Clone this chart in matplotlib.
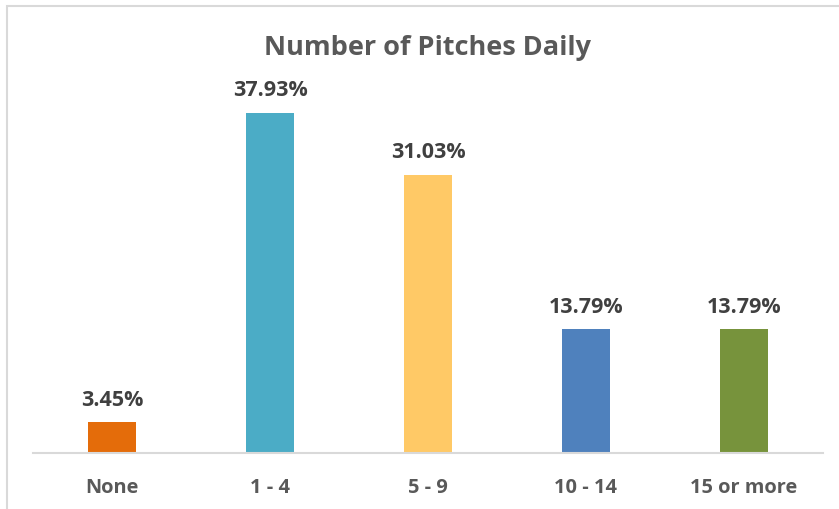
import matplotlib.pyplot as plt
from matplotlib.patches import Rectangle

categories = ['None', '1 - 4', '5 - 9', '10 - 14', '15 or more']
percents = [3.45, 37.93, 31.03, 13.79, 13.79]
colors = ['#E46C0A', '#4BACC6', '#FFC966', '#4F81BD', '#77933C']

plt.rcParams['font.family'] = ['Open Sans', 'DejaVu Sans']

W, H = 839, 510
fig = plt.figure(figsize=(W / 100, H / 100), dpi=100)

# light frame round the chart area
fig.patches.append(Rectangle((7 / W, -0.1), 1.2, (H - 7) / H + 0.1,
                             transform=fig.transFigure, fill=False,
                             edgecolor='#D9D9D9', linewidth=1.5))

ymax = 40
top = 454 - 340 / 37.93 * ymax
ax = fig.add_axes([33 / W, 1 - 454 / H, (823 - 33) / W, (454 - top) / H])

x = range(len(categories))
bars = ax.bar(x, percents, width=0.31, color=colors)
for b, v in zip(bars, percents):
    ax.text(b.get_x() + b.get_width() / 2, v + 1.4, f'{v:.2f}%',
            ha='center', va='bottom', fontsize=15.5, fontweight='bold',
            color='#404040')

ax.set_xlim(-0.5, 4.5)
ax.set_ylim(0, ymax)
ax.set_yticks([])
ax.set_xticks(list(x))
ax.set_xticklabels(categories, fontsize=14.4, fontweight='bold', color='#595959')
ax.tick_params(axis='x', length=0, pad=17)
for s in ['top', 'right', 'left']:
    ax.spines[s].set_visible(False)
ax.spines['bottom'].set_color('#D9D9D9')
ax.spines['bottom'].set_linewidth(1.5)

fig.text(427 / W, 1 - 48 / H, 'Number of Pitches Daily', ha='center',
         va='center', fontsize=19.5, fontweight='bold', color='#595959')

fig.savefig('out.png', dpi=100)
